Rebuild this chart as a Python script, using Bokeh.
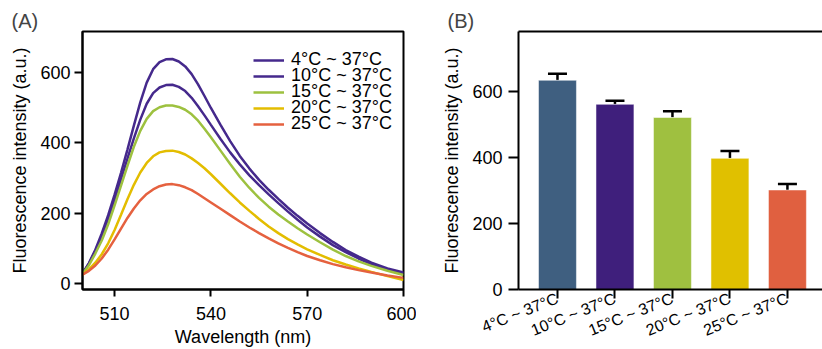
from bokeh.plotting import figure
from bokeh.layouts import row
from bokeh.models import (Range1d, FixedTicker, Legend, LegendItem, LinearAxis, ColumnDataSource,
                          Whisker, TeeHead)
from bokeh.embed import file_html
from bokeh.resources import INLINE

# ---------------- data ----------------
wavelength = [500, 502, 504, 506, 508, 510, 512, 514, 516, 518, 520, 522, 524, 526, 528, 530, 532, 534,
              536, 538, 540, 543, 546, 549, 552, 555, 558, 561, 564, 567, 570, 574, 578, 582, 586, 590, 595, 600]
i_4C = [28, 58, 96, 142, 194, 252, 314, 380, 448, 514, 570, 608, 628, 636, 637, 630, 616, 594,
        565, 532, 498, 450, 404, 362, 326, 294, 266, 240, 215, 192, 170, 143, 118, 95, 76, 59, 43, 31]
i_10C = [28, 56, 92, 135, 184, 238, 296, 354, 412, 465, 510, 540, 556, 563, 564, 558, 546, 527,
         503, 477, 450, 410, 372, 338, 307, 279, 253, 228, 204, 181, 159, 133, 109, 89, 71, 55, 40, 29]
i_15C = [27, 52, 85, 122, 168, 222, 278, 334, 388, 433, 467, 489, 500, 505, 505, 501, 493, 480,
         462, 439, 415, 377, 339, 303, 271, 243, 218, 196, 176, 157, 139, 117, 96, 78, 63, 50, 36, 24]
i_20C = [25, 40, 59, 83, 114, 152, 195, 239, 280, 315, 342, 361, 372, 376, 377, 373, 366, 355,
         342, 327, 310, 283, 256, 230, 206, 183, 162, 143, 126, 111, 97, 81, 66, 54, 43, 33, 21, 10]
i_25C = [25, 36, 51, 71, 96, 125, 156, 186, 213, 236, 254, 267, 276, 281, 282, 279, 273, 265,
         254, 242, 230, 212, 194, 176, 159, 143, 128, 114, 101, 89, 78, 66, 55, 46, 38, 31, 23, 16]

series_labels = ["4°C ~ 37°C", "10°C ~ 37°C", "15°C ~ 37°C", "20°C ~ 37°C", "25°C ~ 37°C"]
series_values = [i_4C, i_10C, i_15C, i_20C, i_25C]
line_colors = ["#45298C", "#45298C", "#9DC13F", "#E3BD00", "#E5613F"]

bar_means = [635, 562, 522, 398, 302]
bar_errors = [20, 11, 19, 22, 18]
bar_colors = ["#3F5F80", "#3F1F7C", "#9FC040", "#E0C000", "#E06040"]

x_ticks_a = [510, 540, 570, 600]
y_ticks = [0, 200, 400, 600]

FONT = "Liberation Sans"

def style_axes(p, tick_out):
    for ax in p.xaxis + p.yaxis:
        ax.axis_line_width = 2
        ax.axis_line_color = "black"
        ax.major_tick_line_width = 2
        ax.major_tick_line_color = "black"
        ax.major_tick_out = tick_out
        ax.major_tick_in = 0
        ax.minor_tick_line_color = None
        ax.major_label_text_font = FONT
        ax.major_label_text_font_size = "18px"
        ax.major_label_text_color = "black"
        ax.axis_label_text_font = FONT
        ax.axis_label_text_font_size = "18px"
        ax.axis_label_text_font_style = "normal"
        ax.axis_label_text_color = "black"

# ---------------- panel A ----------------
pa = figure(width=416, height=349, output_backend="svg", toolbar_location=None,
            x_range=Range1d(500, 600), y_range=Range1d(-17, 715),
            min_border_left=82, min_border_right=13, min_border_top=31, min_border_bottom=60,
            title="(A)")
pa.title.text_font = FONT
pa.title.text_font_size = "20px"
pa.title.text_font_style = "normal"
pa.title.align = "left"
pa.title.offset = -71
pa.title.standoff = 0
pa.grid.visible = False
pa.outline_line_color = "black"
pa.outline_line_width = 2
pa.outline_line_alpha = 1

renderers = []
for vals, col in zip(series_values, line_colors):
    renderers.append(pa.line(wavelength, vals, line_color=col, line_width=2.5))

style_axes(pa, 8)
pa.xaxis.major_tick_out = 7
pa.xaxis.ticker = FixedTicker(ticks=x_ticks_a)
pa.yaxis.ticker = FixedTicker(ticks=y_ticks)
pa.xaxis.axis_label = "Wavelength (nm)"
pa.yaxis.axis_label = "Fluorescence intensity (a.u.)"
pa.xaxis.major_label_standoff = 10
pa.xaxis.axis_label_standoff = 4
pa.yaxis.major_label_standoff = 4
pa.yaxis.axis_label_standoff = 7

# one legend per row so the rows can sit 16 px apart
row_bottoms = [219, 203, 187, 171, 155]
for lab, r, yb in zip(series_labels, renderers, row_bottoms):
    lg = Legend(items=[LegendItem(label=lab, renderers=[r])], location=(171, yb),
                padding=0, margin=0, spacing=0,
                glyph_width=31, glyph_height=16, label_height=16, label_standoff=7,
                label_text_font=FONT, label_text_font_size="18px", label_text_color="black",
                border_line_color=None, background_fill_alpha=0)
    pa.add_layout(lg, "center")

# ---------------- panel B ----------------
xpos = list(range(len(series_labels)))
src = ColumnDataSource(dict(x=xpos, top=bar_means, color=bar_colors,
                            upper=[m + e for m, e in zip(bar_means, bar_errors)]))

pb = figure(width=406, height=349, output_backend="svg", toolbar_location=None,
            x_range=Range1d(-0.678, 4.61), y_range=Range1d(0, 783),
            min_border_left=102, min_border_right=0, min_border_top=29, min_border_bottom=59,
            title="(B)")
pb.title.text_font = FONT
pb.title.text_font_size = "20px"
pb.title.text_font_style = "normal"
pb.title.align = "left"
pb.title.offset = -71
pb.title.standoff = 0
pb.grid.visible = False
pb.outline_line_color = None

pb.vbar(x="x", top="top", width=0.66, bottom=0, fill_color="color", line_color="white",
        line_alpha=0.5, line_width=1, source=src)
wh = Whisker(base="x", lower="top", upper="upper", source=src, line_color="black", line_width=2.5,
             upper_head=TeeHead(size=19, line_width=2.5, line_color="black"), lower_head=None)
pb.add_layout(wh)

style_axes(pb, 10)
pb.xaxis.major_tick_out = 9
pb.xaxis.ticker = FixedTicker(ticks=xpos)
pb.xaxis.major_label_overrides = {i: lab for i, lab in zip(xpos, series_labels)}
pb.xaxis.major_label_orientation = 0.38
pb.xaxis.major_label_text_font_size = "16px"
pb.xaxis.major_label_standoff = -1
pb.yaxis.ticker = FixedTicker(ticks=y_ticks)
pb.yaxis.axis_label = "Fluorescence intensity (a.u.)"
pb.yaxis.major_label_standoff = 6
pb.yaxis.axis_label_standoff = 7

top_axis = LinearAxis(ticker=FixedTicker(ticks=[]), major_label_text_color=None,
                      axis_line_width=2, axis_line_color="black",
                      major_tick_line_color=None, minor_tick_line_color=None)
pb.add_layout(top_axis, "above")

layout = row(pa, pb, spacing=0)
open("out.html", "w").write(file_html(layout, INLINE))
